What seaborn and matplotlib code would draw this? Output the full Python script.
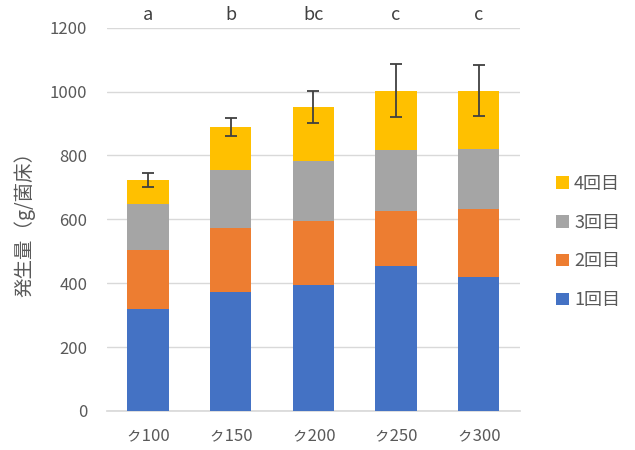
import numpy as np
import pandas as pd
import matplotlib
matplotlib.use("Agg")
import matplotlib.pyplot as plt
from matplotlib.patches import Patch
import seaborn as sns

# Harvest per flush (g per substrate block) for each treatment
categories = ["ㇰ100", "ㇰ150", "ㇰ200", "ㇰ250", "ㇰ300"]
flush1 = [320, 373, 395, 454, 418]
flush2 = [184, 201, 199, 173, 214]
flush3 = [144, 180, 190, 190, 189]
flush4 = [75, 134, 169, 186, 182]
total_err = [22, 28, 50, 83, 80]
letters = ["a", "b", "bc", "c", "c"]
series_names = ["1回目", "2回目", "3回目", "4回目"]
colors = ["#4472C4", "#ED7D31", "#A5A5A5", "#FFC000"]

sns.set_theme(style="white")
plt.rcParams["font.family"] = ["Noto Sans CJK JP", "DejaVu Sans"]
text_gray = "#595959"

df = pd.DataFrame({"cat": categories, "f1": flush1, "f2": flush2,
                   "f3": flush3, "f4": flush4})
stack = df[["f1", "f2", "f3", "f4"]].cumsum(axis=1)

fig = plt.figure(figsize=(6.35, 4.5), dpi=100)
ax = fig.add_axes([0.168, 0.0867, 0.651, 0.8517])

# Stacked bars: draw cumulative heights from the top series down
for col, color in zip(["f4", "f3", "f2", "f1"], colors[::-1]):
    sns.barplot(x=df["cat"], y=stack[col], color=color, width=0.5,
                saturation=1, linewidth=0, edgecolor="none", ax=ax, zorder=3)

totals = stack["f4"].to_numpy()
x = np.arange(len(categories))
ax.errorbar(x, totals, yerr=total_err, fmt="none", ecolor="#404040",
            elinewidth=1.3, capsize=4, capthick=1.3, zorder=5)

for xi, lab in zip(x, letters):
    ax.text(xi, 1212, lab, ha="center", va="bottom", fontsize=13,
            color="#404040")

ax.set_ylim(0, 1200)
ax.set_xlim(-0.5, len(categories) - 0.5)
ax.set_yticks(np.arange(0, 1201, 200))
ax.yaxis.grid(True, color="#D9D9D9", linewidth=1.0, zorder=0)
ax.set_axisbelow(True)
for s in ["top", "right", "left"]:
    ax.spines[s].set_visible(False)
ax.spines["bottom"].set_color("#D9D9D9")
ax.tick_params(axis="y", length=0, pad=14, labelsize=12, labelcolor=text_gray)
ax.tick_params(axis="x", length=0, pad=12, labelsize=12, labelcolor=text_gray)
ax.set_xlabel("")
ax.set_ylabel("発生量（g/菌床）", fontsize=14, color=text_gray, labelpad=10)

handles = [Patch(facecolor=c, edgecolor="none", label=n)
           for n, c in zip(series_names, colors)][::-1]
leg = fig.legend(handles=handles, loc="center left",
                 bbox_to_anchor=(0.85, 0.462), frameon=False,
                 fontsize=13, handlelength=0.7, handleheight=0.7,
                 handletextpad=0.3, labelspacing=1.15)
for t in leg.get_texts():
    t.set_color(text_gray)

fig.savefig("out.png", dpi=100, facecolor="white")
